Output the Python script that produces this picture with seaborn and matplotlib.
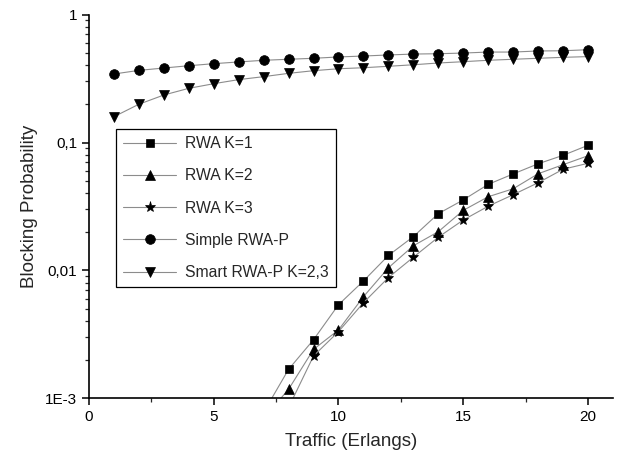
import numpy as np
import pandas as pd
import seaborn as sns
from matplotlib import pyplot as plt
from matplotlib.ticker import FixedLocator, FixedFormatter, LogLocator, NullFormatter, MultipleLocator

# data
traffic = list(range(1, 21))

rwa_k1_x = [7, 8, 9, 10, 11, 12, 13, 14, 15, 16, 17, 18, 19, 20]
rwa_k1 = [0.00078, 0.00169, 0.00288, 0.0054, 0.00828, 0.0131, 0.0184, 0.0278,
          0.0356, 0.0471, 0.0568, 0.0682, 0.0794, 0.0951]

rwa_k2_x = [7, 8, 9, 10, 11, 12, 13, 14, 15, 16, 17, 18, 19, 20]
rwa_k2 = [0.0007, 0.00118, 0.00242, 0.00343, 0.00624, 0.0105, 0.0156, 0.0201,
          0.0295, 0.0377, 0.0435, 0.0570, 0.0671, 0.0788]

rwa_k3_x = [8, 9, 10, 11, 12, 13, 14, 15, 16, 17, 18, 19, 20]
rwa_k3 = [0.00085, 0.00215, 0.00333, 0.0056, 0.0088, 0.0127, 0.0182, 0.0248,
          0.0318, 0.0391, 0.0485, 0.0618, 0.0688]

simple_rwa_p = [0.343, 0.366, 0.382, 0.398, 0.413, 0.426, 0.439, 0.447, 0.455, 0.466,
                0.474, 0.483, 0.491, 0.494, 0.500, 0.509, 0.509, 0.519, 0.521, 0.531]

smart_rwa_p = [0.159, 0.199, 0.235, 0.265, 0.288, 0.310, 0.327, 0.347, 0.364, 0.377,
               0.384, 0.394, 0.405, 0.418, 0.428, 0.439, 0.447, 0.455, 0.463, 0.469]

y_ticks = [1e-3, 1e-2, 1e-1, 1]
y_tick_labels = ['1E-3', '0,01', '0,1', '1']
x_ticks = [0, 5, 10, 15, 20]

sns.set_style('ticks')
plt.rcParams['font.family'] = ['Liberation Sans', 'DejaVu Sans']

fig = plt.figure(figsize=(6.22, 4.61), dpi=100)
ax = fig.add_axes([0.143, 0.1356, 0.8425, 0.8329])

series = [
    (rwa_k1_x, rwa_k1, 's', 6, 'RWA K=1'),
    (rwa_k2_x, rwa_k2, '^', 7, 'RWA K=2'),
    (rwa_k3_x, rwa_k3, '*', 8, 'RWA K=3'),
    (traffic, simple_rwa_p, 'o', 7, 'Simple RWA-P'),
    (traffic, smart_rwa_p, 'v', 7, 'Smart RWA-P K=2,3'),
]

for xs, ys, mk, ms, name in series:
    df = pd.DataFrame({'x': xs, 'y': ys})
    sns.lineplot(data=df, x='x', y='y', ax=ax, color='#8c8c8c', linewidth=0.8,
                 marker=mk, markersize=ms, markerfacecolor='black',
                 markeredgecolor='black', markeredgewidth=0.5, label=name)

ax.set_yscale('log')
ax.set_ylim(1e-3, 1)
ax.set_xlim(0, 21)

ax.yaxis.set_major_locator(FixedLocator(y_ticks))
ax.yaxis.set_major_formatter(FixedFormatter(y_tick_labels))
ax.yaxis.set_minor_locator(LogLocator(base=10, subs=np.arange(2, 10)))
ax.yaxis.set_minor_formatter(NullFormatter())
ax.xaxis.set_major_locator(FixedLocator(x_ticks))
ax.xaxis.set_minor_locator(MultipleLocator(2.5))

sns.despine(ax=ax)
for sp in ['left', 'bottom']:
    ax.spines[sp].set_linewidth(1.2)
    ax.spines[sp].set_color('black')

ax.tick_params(which='major', direction='out', length=5, width=1.1, labelsize=11, colors='black')
ax.tick_params(which='minor', direction='out', length=3, width=0.9)

ax.set_xlabel('Traffic (Erlangs)', fontsize=13.5, labelpad=6)
ax.set_ylabel('Blocking Probability', fontsize=13.5, labelpad=5)

leg = ax.legend(loc='upper left', bbox_to_anchor=(0.1865, 0.720), bbox_transform=fig.transFigure,
                borderaxespad=0, fancybox=False, framealpha=1, edgecolor='black',
                fontsize=11.3, labelspacing=1.1, handlelength=3.4, handletextpad=0.55,
                borderpad=0.45)
leg.get_frame().set_linewidth(0.9)

fig.savefig('out.png', dpi=100)
